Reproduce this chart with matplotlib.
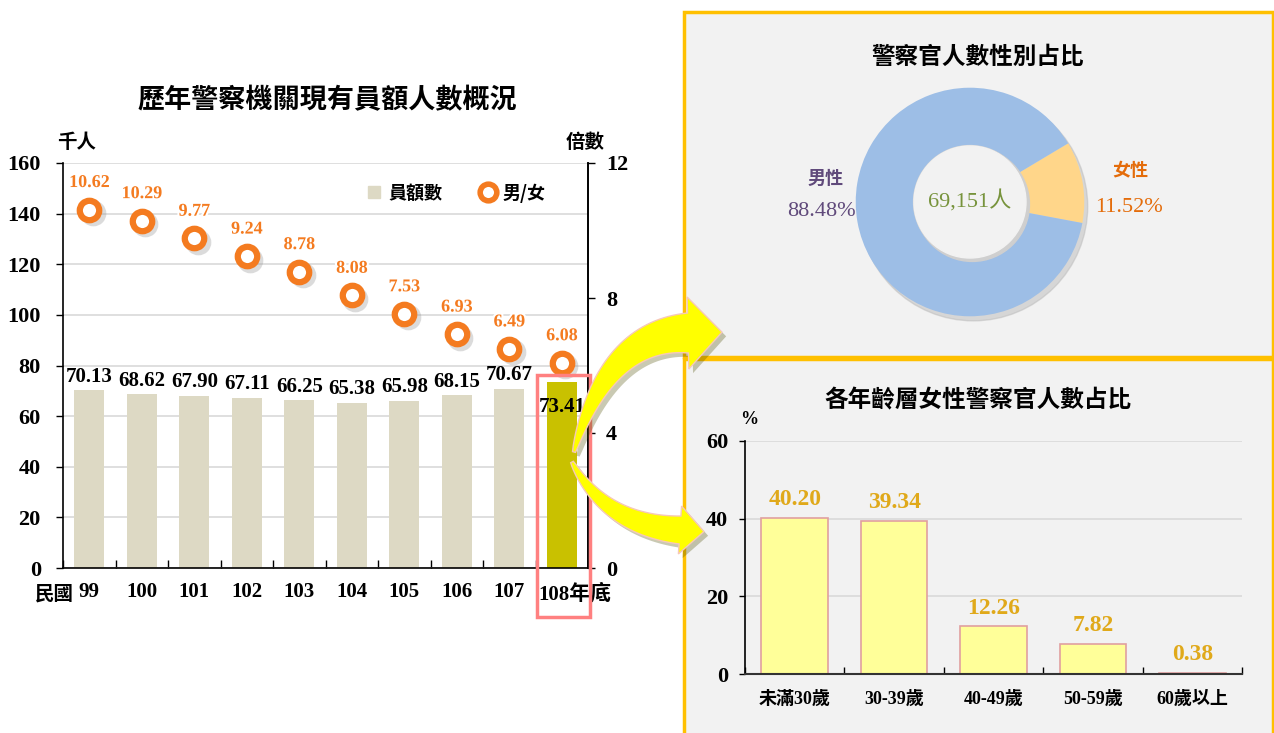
import matplotlib
matplotlib.use("Agg")
import matplotlib.pyplot as plt
import matplotlib.patheffects as pe
import matplotlib.transforms as mtransforms
from matplotlib.patches import Rectangle, Polygon
from matplotlib.lines import Line2D
import numpy as np

# ---------------- data ----------------
years = ['99', '100', '101', '102', '103', '104', '105', '106', '107', '108年底']
staff = [70.13, 68.62, 67.90, 67.11, 66.25, 65.38, 65.98, 68.15, 70.67, 73.41]
ratio = [10.62, 10.29, 9.77, 9.24, 8.78, 8.08, 7.53, 6.93, 6.49, 6.08]

gender_labels = ['女性', '男性']
gender_share = [11.52, 88.48]
gender_total = '69,151人'

age_groups = ['未滿30歲', '30-39歲', '40-49歲', '50-59歲', '60歲以上']
age_share = [40.20, 39.34, 12.26, 7.82, 0.38]

# ---------------- setup ----------------
W, H = 1274, 733
fig = plt.figure(figsize=(W / 100, H / 100), dpi=100)
fig.patch.set_facecolor('white')

CJK = 'Noto Sans CJK TC'
MIX = ['Liberation Serif', CJK]


def px(x, y):
    return (x / W, 1 - y / H)


def box(x0, y0, x1, y1):
    return [x0 / W, 1 - y1 / H, (x1 - x0) / W, (y1 - y0) / H]


# ---------------- left chart ----------------
ax1 = fig.add_axes(box(63, 163, 588, 568))
x = np.arange(len(years))
colors = ['#DDD9C4'] * (len(years) - 1) + ['#C9C100']
ax1.bar(x, staff, width=0.58, color=colors, zorder=2)
ax1.set_xlim(-0.5, len(years) - 0.5)
ax1.set_ylim(0, 160)
ax1.set_yticks(range(0, 161, 20))
ax1.grid(axis='y', color='#D9D9D9', lw=1.2, zorder=0)
ax1.set_axisbelow(True)
ax1.spines['top'].set_visible(False)
for sp in ['left', 'bottom', 'right']:
    ax1.spines[sp].set_color('black')
    ax1.spines[sp].set_linewidth(1.2)
ax1.tick_params(axis='y', labelsize=16, length=5, width=1, pad=11)
for lab in ax1.get_yticklabels():
    lab.set_fontfamily('Liberation Serif')
    lab.set_fontweight('bold')
ax1.set_xticks(x)
ax1.set_xticklabels(years[:-1] + [''], fontfamily=MIX, fontweight='bold', fontsize=15)
ax1.tick_params(axis='x', length=0, pad=10)
ax1.set_xticks(np.arange(-0.5, len(years), 1), minor=True)
ax1.tick_params(axis='x', which='minor', direction='in', length=6, width=1)
fig.text(*px(538, 594), years[-1], ha='left', va='center', fontsize=15,
         fontfamily=MIX, fontweight='bold')

for i, v in enumerate(staff):
    if i == len(staff) - 1:
        ax1.text(i, v - 6, f'{v:.2f}', ha='center', va='top', fontsize=15,
                 fontfamily='Liberation Serif', fontweight='bold', zorder=4)
    else:
        ax1.text(i, v + 1.5, f'{v:.2f}', ha='center', va='bottom', fontsize=15,
                 fontfamily='Liberation Serif', fontweight='bold', zorder=4)

ax2 = ax1.twinx()
ax2.set_ylim(0, 12)
ax2.set_yticks([0, 4, 8, 12])
ax2.tick_params(axis='y', labelsize=16, length=5, width=1, pad=8)
for lab in ax2.get_yticklabels():
    lab.set_fontfamily('Liberation Serif')
    lab.set_fontweight('bold')
for sp in ['top', 'left', 'bottom']:
    ax2.spines[sp].set_visible(False)
ax2.spines['right'].set_linewidth(1.2)
shadow_tr = ax2.transData + mtransforms.ScaledTranslation(2.5 / 72, -2.5 / 72, fig.dpi_scale_trans)
ax2.plot(x, ratio, ls='none', marker='o', markersize=14, markerfacecolor='none',
         markeredgecolor='#999999', markeredgewidth=4.5, alpha=0.35, zorder=4,
         transform=shadow_tr)
ax2.plot(x, ratio, ls='none', marker='o', markersize=14, markerfacecolor='white',
         markeredgecolor='#F47B20', markeredgewidth=4.5, zorder=5)
for i, v in enumerate(ratio):
    ax2.text(i, v + 0.55, f'{v:.2f}', ha='center', va='bottom', fontsize=13,
             fontfamily='Liberation Serif', fontweight='bold', color='#F47B20',
             path_effects=[pe.withStroke(linewidth=3, foreground='white')], zorder=6)

handles = [Line2D([], [], ls='none', marker='s', markersize=8, color='#DDD9C4'),
           Line2D([], [], ls='none', marker='o', markersize=12, markerfacecolor='white',
                  markeredgecolor='#F47B20', markeredgewidth=4)]
leg = ax2.legend(handles, ['員額數', '男/女'], loc='upper right', bbox_to_anchor=(0.95, 0.99),
                 ncol=2, frameon=False, prop={'family': CJK, 'weight': 'bold', 'size': 13},
                 handletextpad=0.3, columnspacing=2.0, handlelength=1.0)

fig.text(*px(327, 100), '歷年警察機關現有員額人數概況', ha='center', va='center',
         fontsize=19.5, fontfamily=CJK, fontweight='bold')
fig.text(*px(77, 142), '千人', ha='center', va='center', fontsize=14,
         fontfamily=CJK, fontweight='bold')
fig.text(*px(585, 142), '倍數', ha='center', va='center', fontsize=14,
         fontfamily=CJK, fontweight='bold')
fig.text(*px(54, 594), '民國', ha='center', va='center', fontsize=14,
         fontfamily=CJK, fontweight='bold')

# pink highlight box
fig.patches.append(Rectangle(px(537, 617), 53 / W, (617 - 375) / H, transform=fig.transFigure,
                             fill=False, edgecolor='#FF8080', lw=2.5, zorder=6))

# ---------------- right panels ----------------
fig.patches.append(Rectangle(px(684, 357), (1273 - 684) / W, (357 - 12) / H, transform=fig.transFigure,
                             facecolor='#F2F2F2', edgecolor='#FFC000', lw=2.5, zorder=-1))
fig.patches.append(Rectangle(px(684, 740), (1273 - 684) / W, (740 - 359) / H, transform=fig.transFigure,
                             facecolor='#F2F2F2', edgecolor='#FFC000', lw=2.5, zorder=-1))

# donut
ax3 = fig.add_axes(box(850, 82, 1090, 322))
ax3.set_facecolor('none')
ax3.add_patch(plt.Circle((0.03, -0.04), 1.0, color='#BBBBBB', alpha=0.5, zorder=0))
ax3.pie(gender_share, colors=['#FFD68A', '#9DBEE6'], startangle=-10.6, counterclock=True,
        radius=1.0, wedgeprops=dict(width=0.5, edgecolor='none'))
ax3.add_patch(plt.Circle((0.02, -0.02), 0.5, color='#CFCFCF', zorder=3))
ax3.add_patch(plt.Circle((0, 0), 0.49, color='#F2F2F2', zorder=4))
ax3.set_xlim(-1.05, 1.05)
ax3.set_ylim(-1.05, 1.05)
ax3.set_aspect('equal')
ax3.axis('off')
ax3.text(0, 0, gender_total, ha='center', va='center', fontsize=16, color='#77933C',
         fontfamily=MIX, zorder=5)

fig.text(*px(978, 57), '警察官人數性別占比', ha='center', va='center', fontsize=17,
         fontfamily=CJK, fontweight='bold')
fig.text(*px(826, 178), gender_labels[1], ha='center', va='center', fontsize=13,
         fontfamily=CJK, fontweight='bold', color='#604A7B')
fig.text(*px(821, 211), f'{gender_share[1]:.2f}%', ha='center', va='center', fontsize=16,
         fontfamily='Liberation Serif', color='#604A7B')
fig.text(*px(1130, 171), gender_labels[0], ha='center', va='center', fontsize=13,
         fontfamily=CJK, fontweight='bold', color='#E46C0A')
fig.text(*px(1129, 207), f'{gender_share[0]:.2f}%', ha='center', va='center', fontsize=16,
         fontfamily='Liberation Serif', color='#E46C0A')

# age bar chart
ax4 = fig.add_axes(box(745, 441, 1242, 674))
ax4.set_facecolor('none')
xa = np.arange(len(age_groups))
ax4.bar(xa, age_share, width=0.67, color='#FFFF99', edgecolor='#E0A0A0', lw=1.2, zorder=2)
ax4.set_xlim(-0.5, len(age_groups) - 0.5)
ax4.set_ylim(0, 60)
ax4.set_yticks([0, 20, 40, 60])
ax4.grid(axis='y', color='#D9D9D9', lw=1.2, zorder=0)
ax4.set_axisbelow(True)
for sp in ['top', 'right']:
    ax4.spines[sp].set_visible(False)
ax4.spines['left'].set_linewidth(1.2)
ax4.spines['bottom'].set_linewidth(1.5)
ax4.spines['bottom'].set_color('#333333')
ax4.tick_params(axis='y', labelsize=16, length=4, width=1, pad=8)
for lab in ax4.get_yticklabels():
    lab.set_fontfamily('Liberation Serif')
    lab.set_fontweight('bold')
ax4.set_xticks(xa)
ax4.set_xticklabels(age_groups, fontfamily=MIX, fontweight='bold', fontsize=13)
ax4.tick_params(axis='x', length=0, pad=12)
ax4.set_xticks(np.arange(-0.5, len(age_groups), 1), minor=True)
ax4.tick_params(axis='x', which='minor', direction='in', length=5, width=1)
for i, v in enumerate(age_share):
    ax4.text(i, v + 2, f'{v:.2f}', ha='center', va='bottom', fontsize=17,
             fontfamily='Liberation Serif', fontweight='bold', color='#E0A91A')

fig.text(*px(978, 400), '各年齡層女性警察官人數占比', ha='center', va='center', fontsize=17,
         fontfamily=CJK, fontweight='bold')
fig.text(*px(749, 420), '%', ha='center', va='center', fontsize=13,
         fontfamily='Liberation Serif', fontweight='bold')


# ---------------- tapered curved arrows ----------------
def curved_arrow(p0, pc, p1, w_end, head_w, head_len):
    p0, pc, p1 = map(np.asarray, (p0, pc, p1))
    t = np.linspace(0, 1, 40)[:, None]
    B = (1 - t) ** 2 * p0 + 2 * (1 - t) * t * pc + t ** 2 * p1
    T = 2 * (1 - t) * (pc - p0) + 2 * t * (p1 - pc)
    T = T / np.linalg.norm(T, axis=1, keepdims=True)
    N = np.column_stack([-T[:, 1], T[:, 0]])
    hw = (1.5 + (w_end / 2 - 1.5) * t[:, 0] ** 0.8)[:, None]
    left = B + N * hw
    right = B - N * hw
    tip = p1 + T[-1] * head_len
    hl = p1 + N[-1] * head_w / 2
    hr = p1 - N[-1] * head_w / 2
    pts = np.vstack([left, hl, tip, hr, right[::-1]])
    pts = np.column_stack([pts[:, 0] / W, 1 - pts[:, 1] / H])
    poly = Polygon(pts, closed=True, transform=fig.transFigure, facecolor='#FFFF00',
                   edgecolor='#F6C8B8', lw=1, zorder=7,
                   path_effects=[pe.withSimplePatchShadow(offset=(3, -3), alpha=0.3)])
    fig.patches.append(poly)


curved_arrow((574, 452), (606, 335), (688, 333), 40, 72, 34)
curved_arrow((572, 462), (605, 525), (680, 530), 28, 48, 24)

fig.savefig('out.png', dpi=100)
